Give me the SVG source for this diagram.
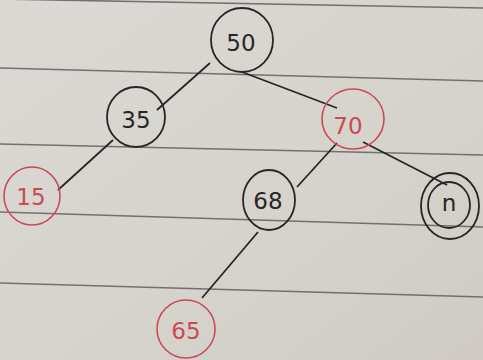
<svg xmlns="http://www.w3.org/2000/svg" width="483" height="360" viewBox="0 0 483 360">
<style>
.ink{fill:none;stroke:#262626;stroke-width:1.8}
.red{fill:none;stroke:#c94a55;stroke-width:1.6}
.rule{stroke:#5a5856;stroke-width:1.6;opacity:0.8}
text{font-family:"DejaVu Sans","Liberation Sans",sans-serif;font-size:23px;text-anchor:middle;dominant-baseline:central}
.tk{fill:#262626}
.tr{fill:#c94a55}
</style>
<defs>
<linearGradient id="paper" x1="0" y1="0" x2="1" y2="1">
<stop offset="0" stop-color="#dcd9d4"/>
<stop offset="0.6" stop-color="#d6d3cd"/>
<stop offset="1" stop-color="#cfcbc4"/>
</linearGradient>
</defs>
<g id="paper-bg">
<rect width="483" height="360" fill="url(#paper)"/>
<line class="rule" x1="0" y1="-1" x2="483" y2="8"/>
<line class="rule" x1="0" y1="68" x2="483" y2="81"/>
<line class="rule" x1="0" y1="144" x2="483" y2="155"/>
<line class="rule" x1="0" y1="212" x2="483" y2="227"/>
<line class="rule" x1="0" y1="283" x2="483" y2="297"/>
</g>
<g id="connectors">
<line class="ink" x1="210" y1="63" x2="157" y2="110"/>
<line class="ink" x1="242" y1="72" x2="337" y2="108"/>
<line class="ink" x1="113" y1="140" x2="58" y2="190"/>
<line class="ink" x1="337" y1="143" x2="297" y2="187"/>
<line class="ink" x1="363" y1="142" x2="447" y2="185"/>
<line class="ink" x1="258" y1="232" x2="202" y2="298"/>
</g>
<g id="n50"><ellipse class="ink" cx="242" cy="40" rx="31" ry="32"/><text class="tk" x="241" y="43">50</text></g>
<g id="n35"><ellipse class="ink" cx="136" cy="117" rx="29" ry="30"/><text class="tk" x="136" y="120">35</text></g>
<g id="n70"><ellipse class="red" cx="353" cy="119" rx="31" ry="30"/><text class="tr" x="348" y="126">70</text></g>
<g id="n15"><ellipse class="red" cx="32" cy="196" rx="28" ry="29"/><text class="tr" x="31" y="197">15</text></g>
<g id="n68"><ellipse class="ink" cx="269" cy="200" rx="26" ry="30"/><text class="tk" x="268" y="201">68</text></g>
<g id="nNil"><ellipse class="ink" cx="450" cy="206" rx="29" ry="33"/><ellipse class="ink" cx="449" cy="205" rx="21" ry="23"/><text class="tk" x="449" y="203">n</text></g>
<g id="n65"><ellipse class="red" cx="186" cy="329" rx="29" ry="29"/><text class="tr" x="186" y="331">65</text></g>
</svg>
